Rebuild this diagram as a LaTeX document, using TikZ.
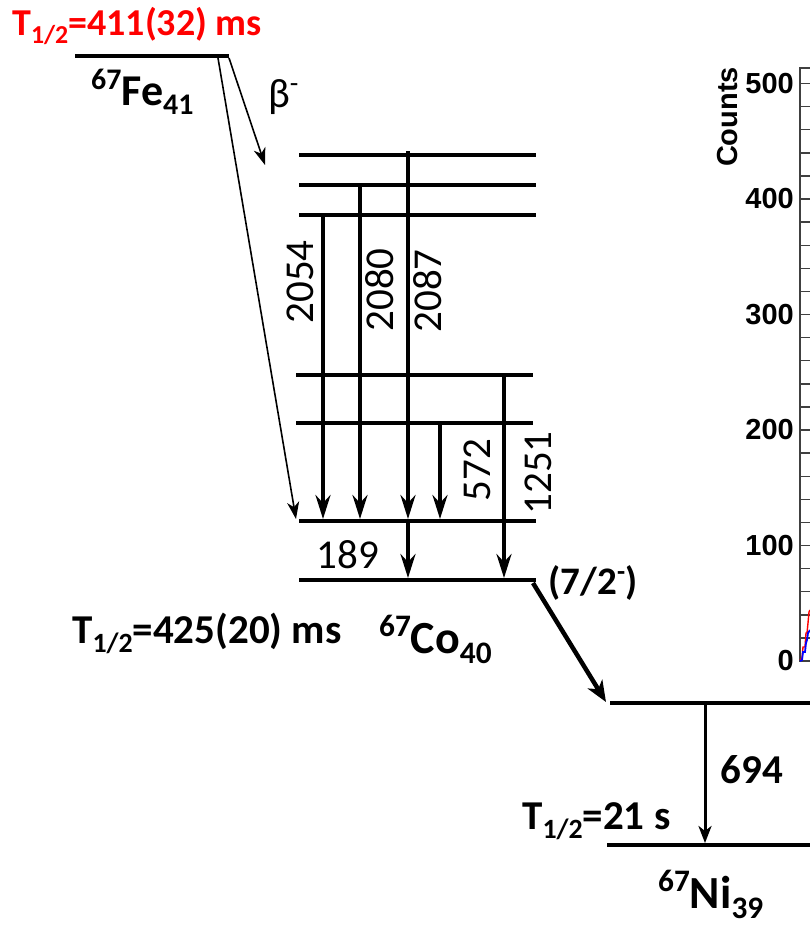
\documentclass[tikz,border=0pt]{standalone}
\usepackage{fontspec}
\setmainfont{Carlito}
\newfontfamily\axfont{Liberation Sans}
\usetikzlibrary{arrows.meta}
\newcommand\mysub[1]{\raisebox{-0.22em}{\scalebox{0.68}{#1}}}
\newcommand\mysup[1]{\raisebox{0.36em}{\scalebox{0.68}{#1}}}
\newcommand\fs[1]{\fontsize{#1}{#1}\selectfont}
\definecolor{tred}{RGB}{255,0,0}
\begin{document}
\begin{tikzpicture}[x=1pt,y=-1pt,
  lev/.style={line width=4pt},
  gam/.style={line width=3.7pt,-{Stealth[length=24pt,width=15pt,inset=8pt]}},
  thinarr/.style={line width=1.6pt,-{Stealth[length=17pt,width=12pt,inset=5pt]}},
  bigarr/.style={line width=4.5pt,-{Stealth[length=21pt,width=17pt,inset=6pt]}},
  nigam/.style={line width=3pt,-{Stealth[length=17pt,width=13pt,inset=5pt]}},
  en/.style={font=\fs{41}, inner sep=0pt},
  lab/.style={font=\fs{41}\bfseries, inner sep=0pt},
  nuc/.style={font=\fs{46}\bfseries, inner sep=0pt},
  axlab/.style={font=\axfont\bfseries\fs{29}, inner sep=0pt},
  axline/.style={line width=1.4pt, black!75}]
\useasboundingbox (0,0) rectangle (810,927);

% ---- Fe parent
\coordinate (feL) at (75,56);
\coordinate (feR) at (229,56);
\draw[lev] (feL) -- (feR);
\node[lab, font=\fs{38}\bfseries, text=tred, anchor=base west] (feT) at (12,35) {T\mysub{1/2}=411(32) ms};
\node[nuc, font=\fs{44}\bfseries, anchor=base west] (feN) at (91,105) {\mysup{67}Fe\mysub{41}};
\node[en, anchor=base west] (beta) at (268,107) {β\mysup{-}};

% ---- Co levels
\coordinate (c1L) at (299,155); \coordinate (c1R) at (536,155);
\coordinate (c2L) at (299,185); \coordinate (c2R) at (536,185);
\coordinate (c3L) at (299,215); \coordinate (c3R) at (536,215);
\coordinate (c4L) at (296,375); \coordinate (c4R) at (533,375);
\coordinate (c5L) at (296,423); \coordinate (c5R) at (533,423);
\coordinate (c6L) at (299,521); \coordinate (c6R) at (536,521);
\coordinate (c7L) at (299,580); \coordinate (c7R) at (536,580);
\foreach \n in {1,...,7} \draw[lev] (c\n L) -- (c\n R);

% beta feeding
\coordinate (fb1) at (218,58);
\coordinate (fb2) at (229,58);
\coordinate (fe1) at (296,519);
\coordinate (fe2) at (265,165);
\draw[thinarr] (fb1) -- (fe1);
\draw[thinarr] (fb2) -- (fe2);

% gamma transitions
\coordinate (g1a) at (323,215); \coordinate (g1b) at (323,519);
\coordinate (g2a) at (360,185); \coordinate (g2b) at (360,519);
\coordinate (g3a) at (408,151); \coordinate (g3b) at (408,519);
\coordinate (g4a) at (440,423); \coordinate (g4b) at (440,519);
\coordinate (g5a) at (504,375); \coordinate (g5b) at (504,578);
\coordinate (g6a) at (408,521); \coordinate (g6b) at (408,578);
\foreach \n in {1,...,6} \draw[gam] (g\n a) -- (g\n b);

\node[en, rotate=90] (e2054) at (300,282) {2054};
\node[en, rotate=90] (e2080) at (380,290) {2080};
\node[en, rotate=90] (e2087) at (428,291) {2087};
\node[en, rotate=90] (e572) at (477,470) {572};
\node[en, rotate=90] (e1251) at (538,473) {1251};
\node[en] (e189) at (348,555) {189};

\node[lab, anchor=base west] (coT) at (72,643) {T\mysub{1/2}=425(20) ms};
\node[nuc, anchor=base west] (coN) at (379,653) {\mysup{67}Co\mysub{40}};
\node[lab, font=\fs{39}\bfseries] (spin) at (593,583) {(7/2\mysup{-})};

% ---- Ni levels
\coordinate (n1L) at (610,703); \coordinate (n1R) at (810,703);
\coordinate (n0L) at (607,845); \coordinate (n0R) at (810,845);
\draw[lev] (n1L) -- (n1R);
\draw[lev] (n0L) -- (n0R);
\coordinate (cb) at (533,583);
\coordinate (ce) at (606,702);
\draw[bigarr] (cb) -- (ce);
\coordinate (na) at (705,705);
\coordinate (nb) at (705,843);
\draw[nigam] (na) -- (nb);
\node[lab] (e694) at (752,770) {694};
\node[lab, anchor=base west] (niT) at (522,829) {T\mysub{1/2}=21 s};
\node[nuc, anchor=base west] (niN) at (658,908) {\mysup{67}Ni\mysub{39}};

% ---- cropped spectrum axis
\draw[axline] (810,68) -- (800,68) -- (800,661) -- (810,661);
\foreach \i in {1,...,25} \draw[axline] (800,661-\i*23.1) -- (810,661-\i*23.1);
\foreach \v/\yy in {0/661,100/545.5,200/430,300/314.5,400/199,500/83.5}
  \node[axlab, anchor=east] (t\v) at (794,\yy) {\v};
\node[axlab, rotate=90] (counts) at (728,117) {Counts};
\draw[line width=1.4pt, red] (800,660) -- (802,658) -- (803,647) -- (805,647) -- (806,633) -- (807,633) -- (808,623) -- (809,612) -- (810,610);
\draw[line width=1.8pt, blue] (800,661) -- (802,660) -- (803,652) -- (805,652) -- (806,643) -- (807,640) -- (808,633) -- (810,630);
\end{tikzpicture}
\end{document}
